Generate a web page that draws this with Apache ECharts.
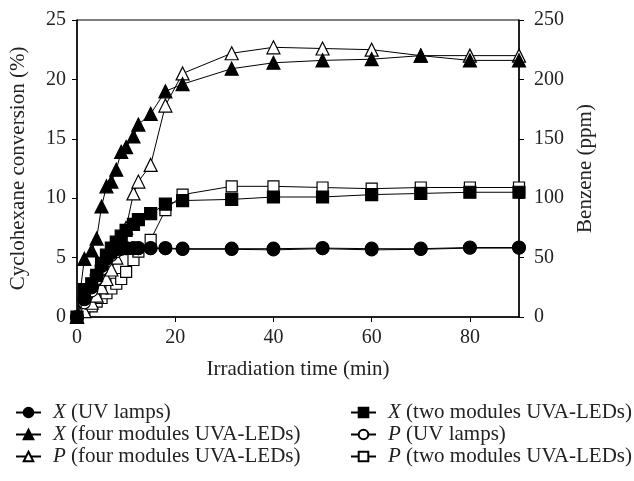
<!DOCTYPE html>
<html><head><meta charset="utf-8">
<script src="https://cdn.jsdelivr.net/npm/echarts@6/dist/echarts.min.js"></script>
<style>html,body{margin:0;padding:0;background:#fff}#c{width:634px;height:481px}</style>
</head><body><div id="c"></div>
<script>
var times = [0, 1.5, 3, 4, 5, 6, 7, 8, 9, 10, 11.5, 12.5, 15, 18, 21.5, 31.5, 40, 50, 60, 70, 80, 90];
var xUV   = [0, 1.5, 2.5, 3.5, 4.3, 4.9, 5.4, 5.7, 5.8, 5.8, 5.8, 5.8, 5.8, 5.8, 5.75, 5.75, 5.75, 5.8, 5.75, 5.75, 5.85, 5.85];
var xTwo  = [0, 2.3, 2.8, 3.5, 4.5, 5.2, 5.8, 6.3, 6.8, 7.3, 7.8, 8.2, 8.7, 9.5, 9.8, 9.9, 10.1, 10.1, 10.3, 10.4, 10.5, 10.5];
var xFour = [0, 4.9, 5.6, 6.6, 9.3, 11.0, 11.4, 12.4, 13.9, 14.3, 15.2, 16.2, 17.1, 19.0, 19.6, 20.9, 21.4, 21.6, 21.7, 22.0, 21.6, 21.6];
var pUV   = [0, 12, 22, 32, 40, 47, 52, 55, 57, 57.5, 57.5, 57.5, 57.5, 57.5, 57, 57, 56.5, 57.5, 56.5, 57, 58, 58];
var pFour = [0, 5, 12, 18, 25, 32, 40, 50, 62, 75, 104, 114, 128, 178, 205, 222, 227, 226, 225, 220, 220, 220];
var pTwo  = [0, 5, 9, 13, 16, 20, 24, 28, 32, 38, 48, 55, 65, 90, 103, 110, 110, 109, 108, 109, 109, 109];
var xTicks = [0, 20, 40, 60, 80];

function pairs(v){ return times.map(function(t,i){return [t, v[i]];}); }
var font = 'Liberation Serif';
var col = '#222';
function mk(name, data, sym, filled, yIdx, size, z){
  return {
    name: name, type: 'line', yAxisIndex: yIdx, data: pairs(data),
    symbol: sym, symbolSize: size, showSymbol: true, z: z,
    lineStyle: {color: '#000', width: 1},
    itemStyle: {color: filled ? '#000' : '#fff', borderColor: '#000', borderWidth: 1.2},
    emphasis: {disabled: true}, animation: false
  };
}
var names = {
  a: '{i|X} (UV lamps)', b: '{i|X} (four modules UVA-LEDs)', c: '{i|P} (four modules UVA-LEDs)',
  d: '{i|X} (two modules UVA-LEDs)', e: '{i|P} (UV lamps)', f: '{i|P} (two modules UVA-LEDs)'
};
var chart = echarts.init(document.getElementById('c'));
var legendText = {fontFamily: font, fontSize: 21, color: col, padding: [0, 0, 0, 7],
  rich: {i: {fontFamily: font, fontSize: 21, fontStyle: 'italic', color: col}}};
chart.setOption({
  backgroundColor: '#fff',
  animation: false,
  grid: {left: 77, right: 115, top: 20, bottom: 164, show: true, borderColor: '#000', borderWidth: 1},
  xAxis: {
    type: 'value', min: 0, max: 90, interval: 20,
    name: 'Irradiation time (min)', nameLocation: 'middle', nameGap: 42,
    nameTextStyle: {fontFamily: font, fontSize: 21, color: col},
    axisLine: {lineStyle: {color: '#000', width: 1.5}},
    axisTick: {show: true, length: 5, lineStyle: {color: '#000'}},
    axisLabel: {fontFamily: font, fontSize: 20, color: col, margin: 11, showMaxLabel: false,
      formatter: function(v){ return xTicks.indexOf(v) >= 0 ? String(v) : ''; }},
    splitLine: {show: false}
  },
  yAxis: [{
    type: 'value', min: 0, max: 25, interval: 5, position: 'left',
    name: 'Cyclohexane conversion (%)', nameLocation: 'middle', nameGap: 48, nameRotate: 90,
    nameTextStyle: {fontFamily: font, fontSize: 21, color: col},
    axisLine: {show: true, lineStyle: {color: '#000', width: 1.5}},
    axisTick: {show: true, length: 5, lineStyle: {color: '#000'}},
    axisLabel: {fontFamily: font, fontSize: 20, color: col, margin: 11},
    splitLine: {show: false}
  }, {
    type: 'value', min: 0, max: 250, interval: 50, position: 'right',
    name: 'Benzene (ppm)', nameLocation: 'middle', nameGap: 48, nameRotate: 90,
    nameTextStyle: {fontFamily: font, fontSize: 21, color: col},
    axisLine: {show: true, lineStyle: {color: '#000', width: 1.5}},
    axisTick: {show: true, length: 5, lineStyle: {color: '#000'}},
    axisLabel: {fontFamily: font, fontSize: 20, color: col, margin: 15},
    splitLine: {show: false}
  }],
  legend: [{
    orient: 'vertical', left: 10, top: 397, itemGap: 1, itemWidth: 25, itemHeight: 12,
    data: [names.a, names.b, names.c], textStyle: legendText, selectedMode: false
  }, {
    orient: 'vertical', left: 345, top: 397, itemGap: 1, itemWidth: 25, itemHeight: 12,
    data: [names.d, names.e, names.f], textStyle: legendText, selectedMode: false
  }],
  series: [
    mk(names.f, pTwo, 'rect', false, 1, 11, 2),
    mk(names.c, pFour, 'triangle', false, 1, 13, 2),
    mk(names.e, pUV, 'circle', false, 1, 12, 2),
    mk(names.d, xTwo, 'rect', true, 0, 12, 3),
    mk(names.b, xFour, 'triangle', true, 0, 13, 3),
    mk(names.a, xUV, 'circle', true, 0, 13, 3)
  ]
});
</script></body></html>
